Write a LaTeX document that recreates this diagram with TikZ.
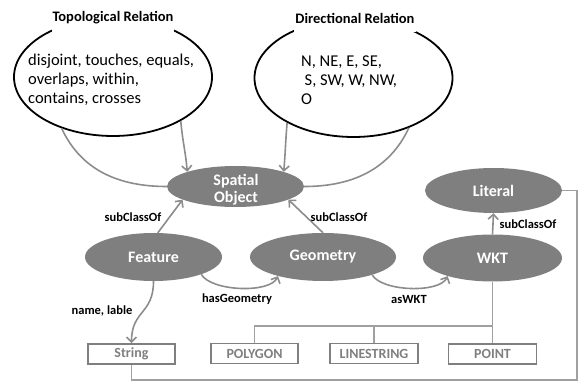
\documentclass[tikz,border=0pt]{standalone}
\usepackage{fontspec}
\setmainfont{Carlito}
\usetikzlibrary{arrows.meta,shapes.geometric}
\definecolor{nodegray}{HTML}{7F7F7F}
\definecolor{linegray}{HTML}{8C8C8C}
\definecolor{treegray}{HTML}{A0A0A0}
\begin{document}
\begin{tikzpicture}[x=1pt,y=-1pt,
  cls/.style={ellipse, fill=nodegray, text=white, font=\bfseries\fontsize{16}{17}\selectfont, align=center, inner sep=0pt, minimum width=137pt, minimum height=47pt},
  rel/.style={ellipse, draw=black, line width=1.8pt, minimum width=198pt, minimum height=118pt, inner sep=0pt},
  reltxt/.style={anchor=west, align=left, inner sep=0pt, font=\fontsize{16.5}{19}\selectfont},
  lit/.style={draw=nodegray, line width=1.6pt, text=nodegray, font=\bfseries\fontsize{14}{16}\selectfont, minimum width=87pt, minimum height=20pt, inner sep=0pt},
  conn/.style={draw=linegray, line width=1.6pt},
  arr/.style={conn, -{Straight Barb[length=5pt,width=10pt,line width=1.6pt]}},
  tree/.style={draw=treegray, line width=1.3pt},
  elab/.style={font=\bfseries\fontsize{12.5}{14}\selectfont, text=black},
  ttl/.style={font=\bfseries\fontsize{14.5}{16}\selectfont, fill=white, inner xsep=1pt, minimum height=28pt}
]
\useasboundingbox (0,0) rectangle (579,382);
% relation ellipses
\node[rel] (topo) at (113,77) {};
\node[rel] (dir) at (353.5,78) {};
\node[ttl] (ttopo) at (113,18) {Topological Relation};
\node[ttl] (tdir) at (355,18) {Directional Relation};
\node[reltxt] (topotxt) at (28,80) {disjoint, touches, equals,\\overlaps, within,\\contains, crosses};
\node[reltxt] (dirtxt) at (301,80) {N, NE, E, SE,\\\hspace*{3.5pt}S, SW, W, NW,\\O};
% classes
\node[cls, minimum height=41pt] (spatial) at (235.5,186.5) {};
\node[text=white, align=center, inner sep=0pt, font=\bfseries\fontsize{16}{17}\selectfont] (spatialtxt) at (236,190) {Spatial\\Object};
\node[cls, minimum height=48pt] (feature) at (153.5,257) {Feature};
\node[cls, minimum width=146pt, minimum height=48pt] (geometry) at (323,257) {Geometry};
\node[cls, minimum width=139pt] (wkt) at (492.5,258) {WKT};
\node[cls, minimum height=45pt] (literal) at (493.5,190.5) {Literal};
% literal boxes
\node[lit] (string) at (131.5,354) {String};
\node[lit] (polygon) at (254.5,353.5) {POLYGON};
\node[lit, minimum width=88pt] (linestring) at (374,353.5) {LINESTRING};
\node[lit, minimum width=88pt] (point) at (492.5,354) {POINT};
% relation connectors
\draw[arr] (topo.-33) to[out=-85,in=95] (spatial.163);
\draw[conn] (topo.-135) to[out=-65,in=180] (spatial.west);
\draw[arr] (dir.-146) to[out=-95,in=85] (spatial.17);
\draw[conn] (dir.-42) to[out=-115,in=0] (spatial.east);
% subclass
\draw[arr] (feature.80) -- (spatial.-166);
\draw[arr] (geometry.north) -- (spatial.-14);
\draw[arr] (wkt.north) -- (literal.south);
\node[elab] (l1) at (133,217) {subClassOf};
\node[elab] (l2) at (339,217) {subClassOf};
\node[elab] (l3) at (528,224) {subClassOf};
% properties
\draw[arr] (feature.-20) to[out=-60,in=-115,looseness=0.65] (geometry.-157);
\node[elab] (l4) at (237,299) {hasGeometry};
\draw[arr] (geometry.-20) to[out=-60,in=-115,looseness=0.65] (wkt.-158);
\node[elab] (l5) at (409,299) {asWKT};
\draw[arr] (feature.south) to[out=-90,in=90,looseness=1.3] (string.north);
\node[elab] (l6) at (102,311) {name, lable};
% tree
\coordinate (bus) at (492.5,326);
\coordinate (corner) at (577,380);
\draw[tree] (wkt.south) -- (point.north);
\draw[tree] (polygon.north) |- (bus);
\draw[tree] (linestring.north) -- (linestring.north |- bus);
\draw[tree] (literal.east) -| (corner) -| (string.south);
\end{tikzpicture}
\end{document}
